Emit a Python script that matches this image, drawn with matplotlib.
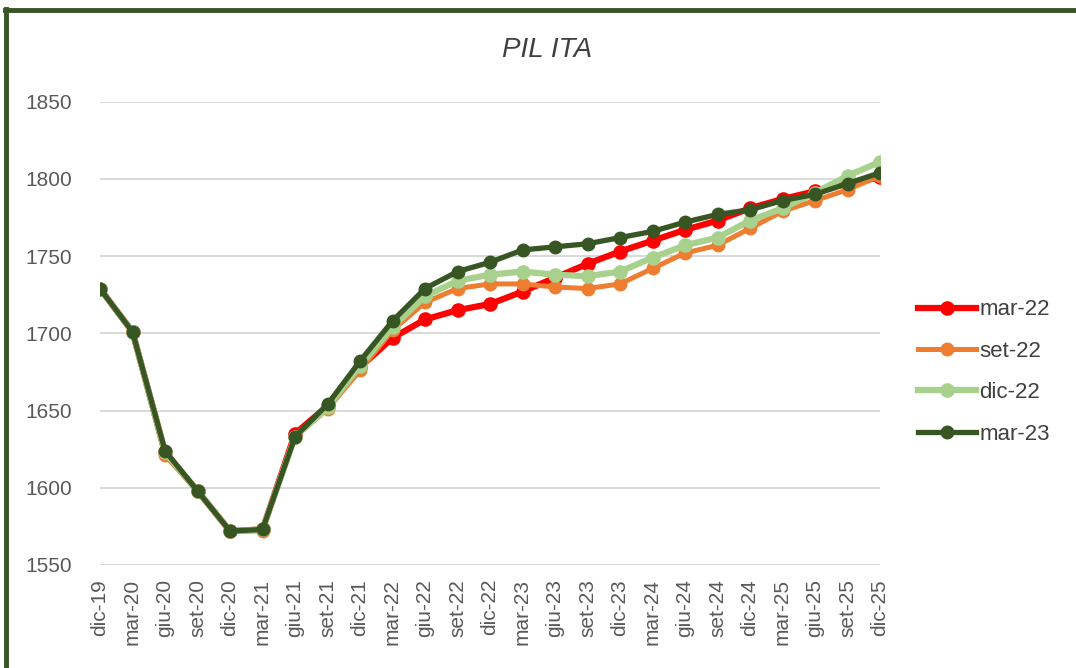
import matplotlib
matplotlib.use("Agg")
import matplotlib.pyplot as plt
from matplotlib.lines import Line2D

# PIL ITA - quarterly GDP forecasts by vintage
quarters = ['dic-19', 'mar-20', 'giu-20', 'set-20', 'dic-20', 'mar-21', 'giu-21',
            'set-21', 'dic-21', 'mar-22', 'giu-22', 'set-22', 'dic-22', 'mar-23',
            'giu-23', 'set-23', 'dic-23', 'mar-24', 'giu-24', 'set-24', 'dic-24',
            'mar-25', 'giu-25', 'set-25', 'dic-25']

mar22 = [1729, 1701, 1623, 1598, 1572, 1573, 1635, 1653, 1678, 1697, 1709, 1715, 1719,
         1727, 1736, 1745, 1753, 1760, 1767, 1773, 1781, 1787, 1792, 1797, 1801]
set22 = [1729, 1701, 1621, 1598, 1572, 1572, 1633, 1651, 1676, 1702, 1720, 1729, 1732,
         1732, 1730, 1729, 1732, 1742, 1752, 1757, 1768, 1779, 1786, 1793, 1802]
dic22 = [1729, 1701, 1623, 1598, 1572, 1573, 1633, 1652, 1679, 1704, 1724, 1734, 1738,
         1740, 1738, 1737, 1740, 1749, 1757, 1762, 1773, 1781, 1791, 1802, 1811]
mar23 = [1729, 1701, 1624, 1598, 1572, 1573, 1633, 1654, 1682, 1708, 1729, 1740, 1746,
         1754, 1756, 1758, 1762, 1766, 1772, 1777, 1780, 1786, 1790, 1797, 1804]

series = [
    ('mar-22', mar22, '#ff0000', 4.5, 9.5),
    ('set-22', set22, '#ed7d31', 3.6, 9),
    ('dic-22', dic22, '#a9d18e', 4.5, 9.5),
    ('mar-23', mar23, '#375623', 3.8, 9),
]

plt.rcParams['font.family'] = ['Liberation Sans', 'DejaVu Sans']

fig = plt.figure(figsize=(10.76, 6.68), dpi=100)
ax = fig.add_axes([100 / 1076, 1 - 565 / 668, 780 / 1076, (565 - 101.7) / 668])

x = list(range(len(quarters)))
for name, vals, col, lw, ms in series:
    ax.plot(x, vals, color=col, lw=lw, marker='o', markersize=ms,
            markeredgecolor=col, label=name, solid_joinstyle='round')

ax.set_xlim(0, len(quarters) - 1)
ax.set_ylim(1550, 1850)
ax.set_yticks(range(1550, 1851, 50))
ax.set_xticks(x)
ax.set_xticklabels(quarters, rotation=90, va='top', ha='center')
ax.tick_params(axis='both', length=0, colors='#595959', labelsize=15)
ax.tick_params(axis='y', pad=20)
ax.tick_params(axis='x', pad=10)
ax.grid(axis='y', color='#d9d9d9', lw=1.4)
ax.set_axisbelow(True)
for s in ax.spines.values():
    s.set_visible(False)

fig.text(547 / 1076, 1 - 50 / 668, 'PIL ITA', ha='center', va='center',
         fontsize=20, style='italic', color='#404040')

leg = ax.legend(loc='center left', bbox_to_anchor=(918 / 1076, 1 - 372 / 668),
                bbox_transform=fig.transFigure, frameon=False, fontsize=16,
                handlelength=2.6, handletextpad=0.15, labelspacing=0.92,
                borderpad=0, borderaxespad=0)
for t in leg.get_texts():
    t.set_color('#404040')

# dark green border (only top and left edges visible in the crop)
fig.add_artist(Line2D([5 / 1076, 1.0], [1 - 10 / 668, 1 - 10 / 668],
                      transform=fig.transFigure, color='#375623', lw=3.5))
fig.add_artist(Line2D([6 / 1076, 6 / 1076], [0, 1 - 8.5 / 668],
                      transform=fig.transFigure, color='#375623', lw=3.5))

fig.savefig('out.png', dpi=100)
